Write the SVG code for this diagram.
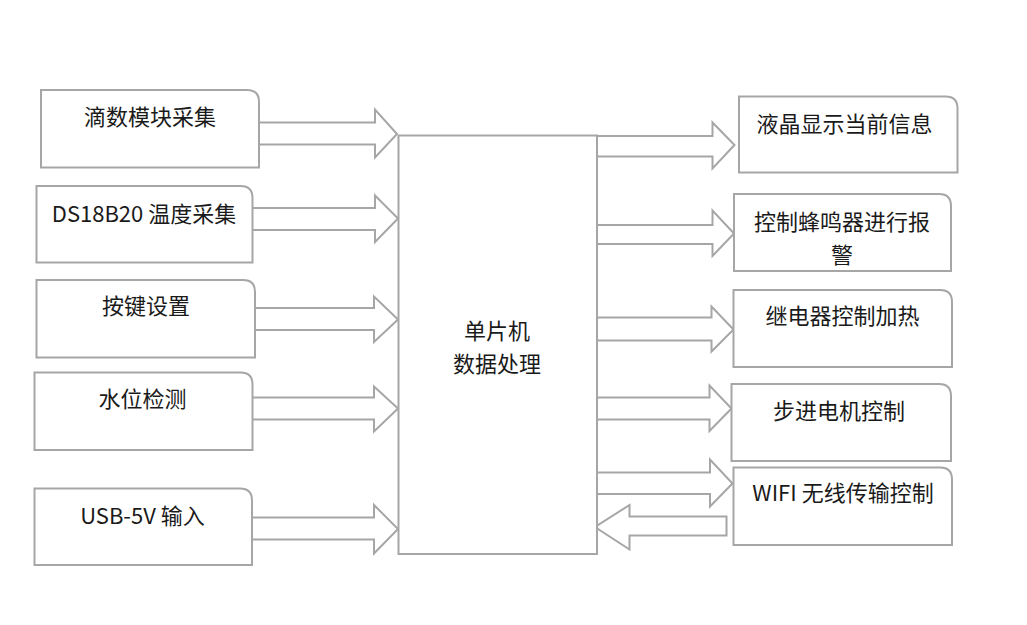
<svg xmlns="http://www.w3.org/2000/svg" width="1027" height="625" viewBox="0 0 1027 625">
<style>
.box{fill:#fff;stroke:#a6a6a6;stroke-width:2}
.arr{fill:#fff;stroke:#a6a6a6;stroke-width:2;stroke-linejoin:miter}
text{font-family:"Noto Sans CJK SC","Noto Sans",sans-serif;font-size:22px;fill:#1a1a1a;text-anchor:middle}
</style>
<rect width="1027" height="625" fill="#fff"/>
<g id="connectors">
<path class="arr" d="M259,122.5 H375 V109.5 L397,134 L375,157.5 V144.5 H259"/>
<path class="arr" d="M253,208 H375 V195.5 L398,218.5 L375,242 V230 H253"/>
<path class="arr" d="M255,308 H374 V296.5 L398,319.5 L374,342 V330 H255"/>
<path class="arr" d="M252.5,397.5 H374 V386.5 L398,408.5 L374,431.5 V419.5 H252.5"/>
<path class="arr" d="M252,517.5 H374 V505 L398,529 L374,553.5 V539.5 H252"/>
<path class="arr" d="M596,136 H712.5 V122.5 L734.5,145 L712.5,168.5 V156.5 H596 Z"/>
<path class="arr" d="M596,225 H712.5 V210.5 L734,233.5 L712.5,256 V244 H596 Z"/>
<path class="arr" d="M595,317.5 H711.5 V306.5 L733.5,329.5 L711.5,351.5 V340.5 H595 Z"/>
<path class="arr" d="M593.5,397.5 H709.5 V385.5 L731.5,408.5 L709.5,431 V419.5 H593.5 Z"/>
<path class="arr" d="M595,472.5 H710 V459.5 L732.5,483.5 L710,506.5 V494 H595 Z"/>
<path class="arr" d="M726.5,516.5 H629.5 V505 L595,527 L629.5,549.5 V535.5 H726.5 Z"/>
</g>
<g id="mcu">
<rect class="box" x="398.5" y="135.5" width="198.5" height="418.5"/>
<text x="497" y="339">单片机</text>
<text x="497" y="372">数据处理</text>
</g>
<g id="drip">
<path class="box" d="M41,90 H247 Q259,90 259,102 V167.5 H41 Z"/>
<text x="150" y="124.5">滴数模块采集</text>
</g>
<g id="ds18b20">
<path class="box" d="M36.5,186 H240.5 Q252.5,186 252.5,198 V262.5 H36.5 Z"/>
<text x="144" y="221.5">DS18B20 温度采集</text>
</g>
<g id="keys">
<path class="box" d="M36.5,280 H243 Q255,280 255,292 V357.5 H36.5 Z"/>
<text x="146" y="314">按键设置</text>
</g>
<g id="water">
<path class="box" d="M34.5,372.5 H240.5 Q252.5,372.5 252.5,384.5 V450 H34.5 Z"/>
<text x="142.5" y="407">水位检测</text>
</g>
<g id="usb">
<path class="box" d="M34.5,488.5 H240 Q252,488.5 252,500.5 V565 H34.5 Z"/>
<text x="142.5" y="524">USB-5V 输入</text>
</g>
<g id="lcd">
<path class="box" d="M739,96.5 H945.5 Q957.5,96.5 957.5,108.5 V172.5 H739 Z"/>
<text x="844.5" y="132">液晶显示当前信息</text>
</g>
<g id="buzzer">
<path class="box" d="M734,194 H939 Q951,194 951,206 V271 H734 Z"/>
<text x="842" y="230">控制蜂鸣器进行报</text>
<text x="842" y="263">警</text>
</g>
<g id="relay">
<path class="box" d="M733.5,290 H940 Q952,290 952,302 V367 H733.5 Z"/>
<text x="842.5" y="324">继电器控制加热</text>
</g>
<g id="stepper">
<path class="box" d="M731.5,384 H939 Q951,384 951,396 V461 H731.5 Z"/>
<text x="839" y="419">步进电机控制</text>
</g>
<g id="wifi">
<path class="box" d="M733.5,467.5 H940 Q952,467.5 952,479.5 V545 H733.5 Z"/>
<text x="843" y="501">WIFI 无线传输控制</text>
</g>
</svg>
